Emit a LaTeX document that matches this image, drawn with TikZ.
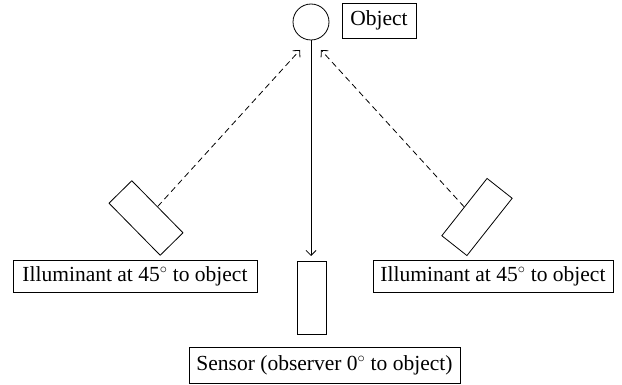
\documentclass[tikz,border=0pt]{standalone}
\usepackage{fontspec}
\setmainfont{Liberation Serif}
\usetikzlibrary{arrows.meta}
\begin{document}
\begin{tikzpicture}[x=1pt,y=-1pt,
  every node/.style={font=\fontsize{21.5}{25}\selectfont},
  thin line/.style={line width=0.8pt},
  labelbox/.style={draw,thin line,rectangle,inner sep=0pt,align=center},
  device/.style={draw,thin line,rectangle,inner sep=0pt},
  ray/.style={thin line,-{Straight Barb[length=5pt,width=10pt]}},
  lightray/.style={ray,dash pattern=on 6pt off 4pt}]
  \useasboundingbox (0,0) rectangle (622,385);

  % object and its label
  \node[draw,thin line,circle,minimum size=36pt,inner sep=0pt] (obj) at (311,22) {};
  \node[labelbox,minimum width=74pt,minimum height=35pt] (objlabel) at (379,20.5) {Object};

  % sensor
  \node[device,minimum width=29pt,minimum height=73pt] (sensor) at (311.5,297.5) {};
  \node[labelbox,minimum width=271pt,minimum height=36pt] (sensorlabel) at (324.5,365)
    {Sensor (observer 0$^\circ$ to object)};

  % illuminants
  \node[device,minimum width=73pt,minimum height=32pt,rotate=-45.5] (illL) at (146,218) {};
  \node[device,minimum width=73pt,minimum height=32pt,rotate=51.7] (illR) at (477,217) {};
  \node[labelbox,minimum width=244pt,minimum height=32pt] (labL) at (135,276)
    {Illuminant at 45$^\circ$ to object};
  \node[labelbox,minimum width=240pt,minimum height=32pt] (labR) at (493,276)
    {Illuminant at 45$^\circ$ to object};

  % ray end points near the object
  \coordinate (hitL) at (300,50);
  \coordinate (hitR) at (321,50);
  \coordinate (hitS) at (311,256);

  % rays
  \draw[lightray] (illL.north) -- (hitL);
  \draw[lightray] (illR.north) -- (hitR);
  \draw[ray] (obj.south) -- (hitS);
\end{tikzpicture}
\end{document}
